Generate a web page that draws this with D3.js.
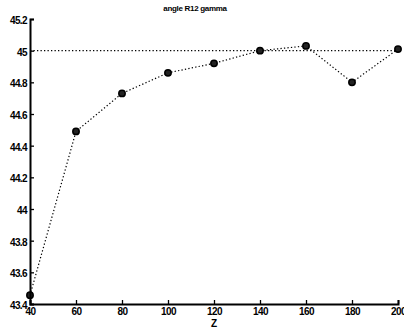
<!DOCTYPE html>
<html>
<head>
<meta charset="utf-8">
<script src="https://cdn.jsdelivr.net/npm/d3@7"></script>
<style>
  body { margin: 0; background: #fff; }
  svg { display: block; }
  text { font-family: "Liberation Sans", Arial, sans-serif; font-weight: bold; fill: #000; }
</style>
</head>
<body>
<svg id="chart" width="404" height="330"></svg>
<script>
// values
const zValues = [40, 60, 80, 100, 120, 140, 160, 180, 200];
const angleValues = [43.455, 44.49, 44.73, 44.86, 44.92, 45.0, 45.03, 44.80, 45.01];
const refValue = 45;
const xTicks = [40, 60, 80, 100, 120, 140, 160, 180, 200];
const yTicks = [43.4, 43.6, 43.8, 44, 44.2, 44.4, 44.6, 44.8, 45, 45.2];

const width = 404;
const height = 330;
const margin = { left: 30, right: 6, top: 19, bottom: 26 };

const svg = d3.select("#chart");

const x = d3.scaleLinear().domain([40, 200]).range([margin.left, width - margin.right]);
const y = d3.scaleLinear().domain([43.4, 45.2]).range([height - margin.bottom, margin.top]);

// reference line at 45
svg.append("line")
    .attr("x1", x(40)).attr("x2", x(200))
    .attr("y1", y(refValue)).attr("y2", y(refValue))
    .attr("stroke", "#000")
    .attr("stroke-width", 1.2)
    .attr("stroke-dasharray", "1.3,2.2");

// dotted series line
const line = d3.line()
    .x((d, i) => x(zValues[i]))
    .y((d) => y(d));

svg.append("path")
    .datum(angleValues)
    .attr("d", line)
    .attr("fill", "none")
    .attr("stroke", "#000")
    .attr("stroke-width", 1.2)
    .attr("stroke-dasharray", "1.3,2.2");

svg.append("g")
    .selectAll("circle")
    .data(angleValues)
    .join("circle")
    .attr("cx", (d, i) => x(zValues[i]))
    .attr("cy", (d) => y(d))
    .attr("r", 3.2)
    .attr("fill", "#222")
    .attr("stroke", "#000")
    .attr("stroke-width", 1.5);

// axes, ticks pointing inward like the original
const xAxis = svg.append("g")
    .attr("transform", `translate(0,${y(43.4)})`)
    .call(d3.axisBottom(x).tickValues(xTicks).tickSize(-4).tickPadding(4).tickFormat(d3.format("d")));

const yAxis = svg.append("g")
    .attr("transform", `translate(${x(40)},0)`)
    .call(d3.axisLeft(y).tickValues(yTicks).tickSize(-4).tickPadding(3).tickFormat((d) => d3.format("~g")(+d.toFixed(1))));

[xAxis, yAxis].forEach((g) => {
    g.select(".domain").attr("stroke", "#000").attr("stroke-width", 2);
    g.selectAll(".tick line").attr("stroke", "#000").attr("stroke-width", 1.3);
    g.selectAll(".tick text")
        .attr("font-size", 10)
        .attr("letter-spacing", -0.6)
        .style("font-family", "'Liberation Sans', Arial, sans-serif")
        .style("font-weight", "bold");
});

// y labels sit a bit below their tick like in the scan
yAxis.selectAll(".tick text").attr("dy", "0.45em");

svg.append("text")
    .attr("x", 195)
    .attr("y", 11)
    .attr("text-anchor", "middle")
    .attr("font-size", 8)
    .attr("letter-spacing", -0.3)
    .text("angle R12 gamma");

svg.append("text")
    .attr("x", x(120))
    .attr("y", 327)
    .attr("text-anchor", "middle")
    .attr("font-size", 10)
    .text("Z");
</script>
</body>
</html>
